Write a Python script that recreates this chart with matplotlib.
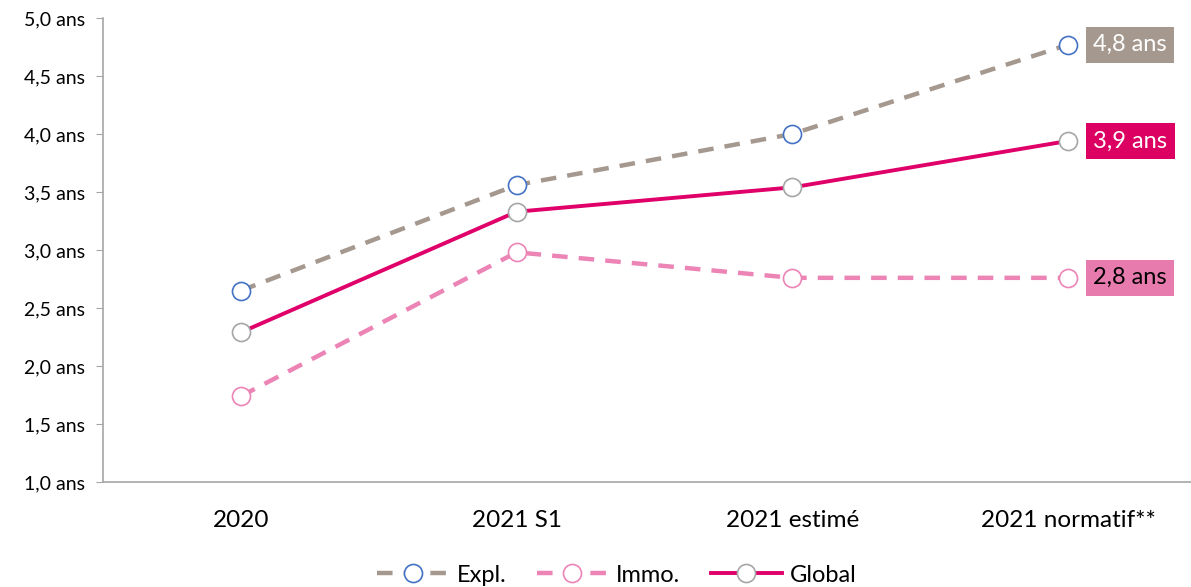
import matplotlib
matplotlib.use("Agg")
import matplotlib.pyplot as plt

plt.rcParams["font.family"] = ["Lato", "DejaVu Sans"]

categories = ["2020", "2021 S1", "2021 estimé", "2021 normatif**"]
expl = [2.65, 3.56, 4.00, 4.77]
immo = [1.74, 2.98, 2.76, 2.76]
glob = [2.29, 3.33, 3.54, 3.94]
end_labels = ["4,8 ans", "3,9 ans", "2,8 ans"]
y_ticks = [1.0, 1.5, 2.0, 2.5, 3.0, 3.5, 4.0, 4.5, 5.0]

W, H = 1191, 587
fig = plt.figure(figsize=(W / 100, H / 100), dpi=100)
ax = fig.add_axes([103 / W, (H - 482) / H, 1103 / W, 464 / H])

x = list(range(len(categories)))
mk = dict(marker="o", markersize=13, markerfacecolor="white", markeredgewidth=1.2)
l1, = ax.plot(x, expl, color="#A5988F", lw=3.2, dashes=(3.5, 2.5),
              markeredgecolor="#4472C4", label="Expl.", **mk)
l2, = ax.plot(x, immo, color="#EC84B6", lw=3.2, dashes=(3.5, 2.5),
              markeredgecolor="#EC84B6", label="Immo.", **mk)
l3, = ax.plot(x, glob, color="#E0006A", lw=2.8,
              markeredgecolor="#A6A6A6", label="Global", **mk)

# boxed labels at the last point
styles = [(expl[-1], "#A5998F", "white"),
          (glob[-1], "#DC0062", "white"),
          (immo[-1], "#E87BAE", "black")]
for (yv, bg, fg), txt in zip(styles, end_labels):
    ax.annotate(txt, (x[-1], yv), xytext=(25, 0), textcoords="offset pixels",
                ha="left", va="center", fontsize=17, color=fg,
                bbox=dict(boxstyle="square,pad=0.32", fc=bg, ec="none"),
                annotation_clip=False)

ax.set_xlim(-0.5, 3.5)
ax.set_ylim(1.0, 5.0)
ax.set_yticks(y_ticks)
ax.set_yticklabels([f"{v:.1f}".replace(".", ",") + " ans" for v in y_ticks])
ax.set_xticks(x)
ax.set_xticklabels(categories)
ax.tick_params(axis="x", length=0, labelsize=17.5, pad=20)
ax.tick_params(axis="y", length=5, color="#A6A6A6", labelsize=14, pad=8)
for s in ["top", "right"]:
    ax.spines[s].set_visible(False)
for s in ["left", "bottom"]:
    ax.spines[s].set_color("#A6A6A6")
    ax.spines[s].set_linewidth(1.2)

fig.legend(handles=[l1, l2, l3], loc="center", bbox_to_anchor=(617 / W, 12 / H),
           ncol=3, frameon=False, fontsize=17, handlelength=3.0,
           columnspacing=1.3, handletextpad=0.35, numpoints=1,
           borderpad=0, borderaxespad=0)

fig.savefig("out.png", dpi=100)
